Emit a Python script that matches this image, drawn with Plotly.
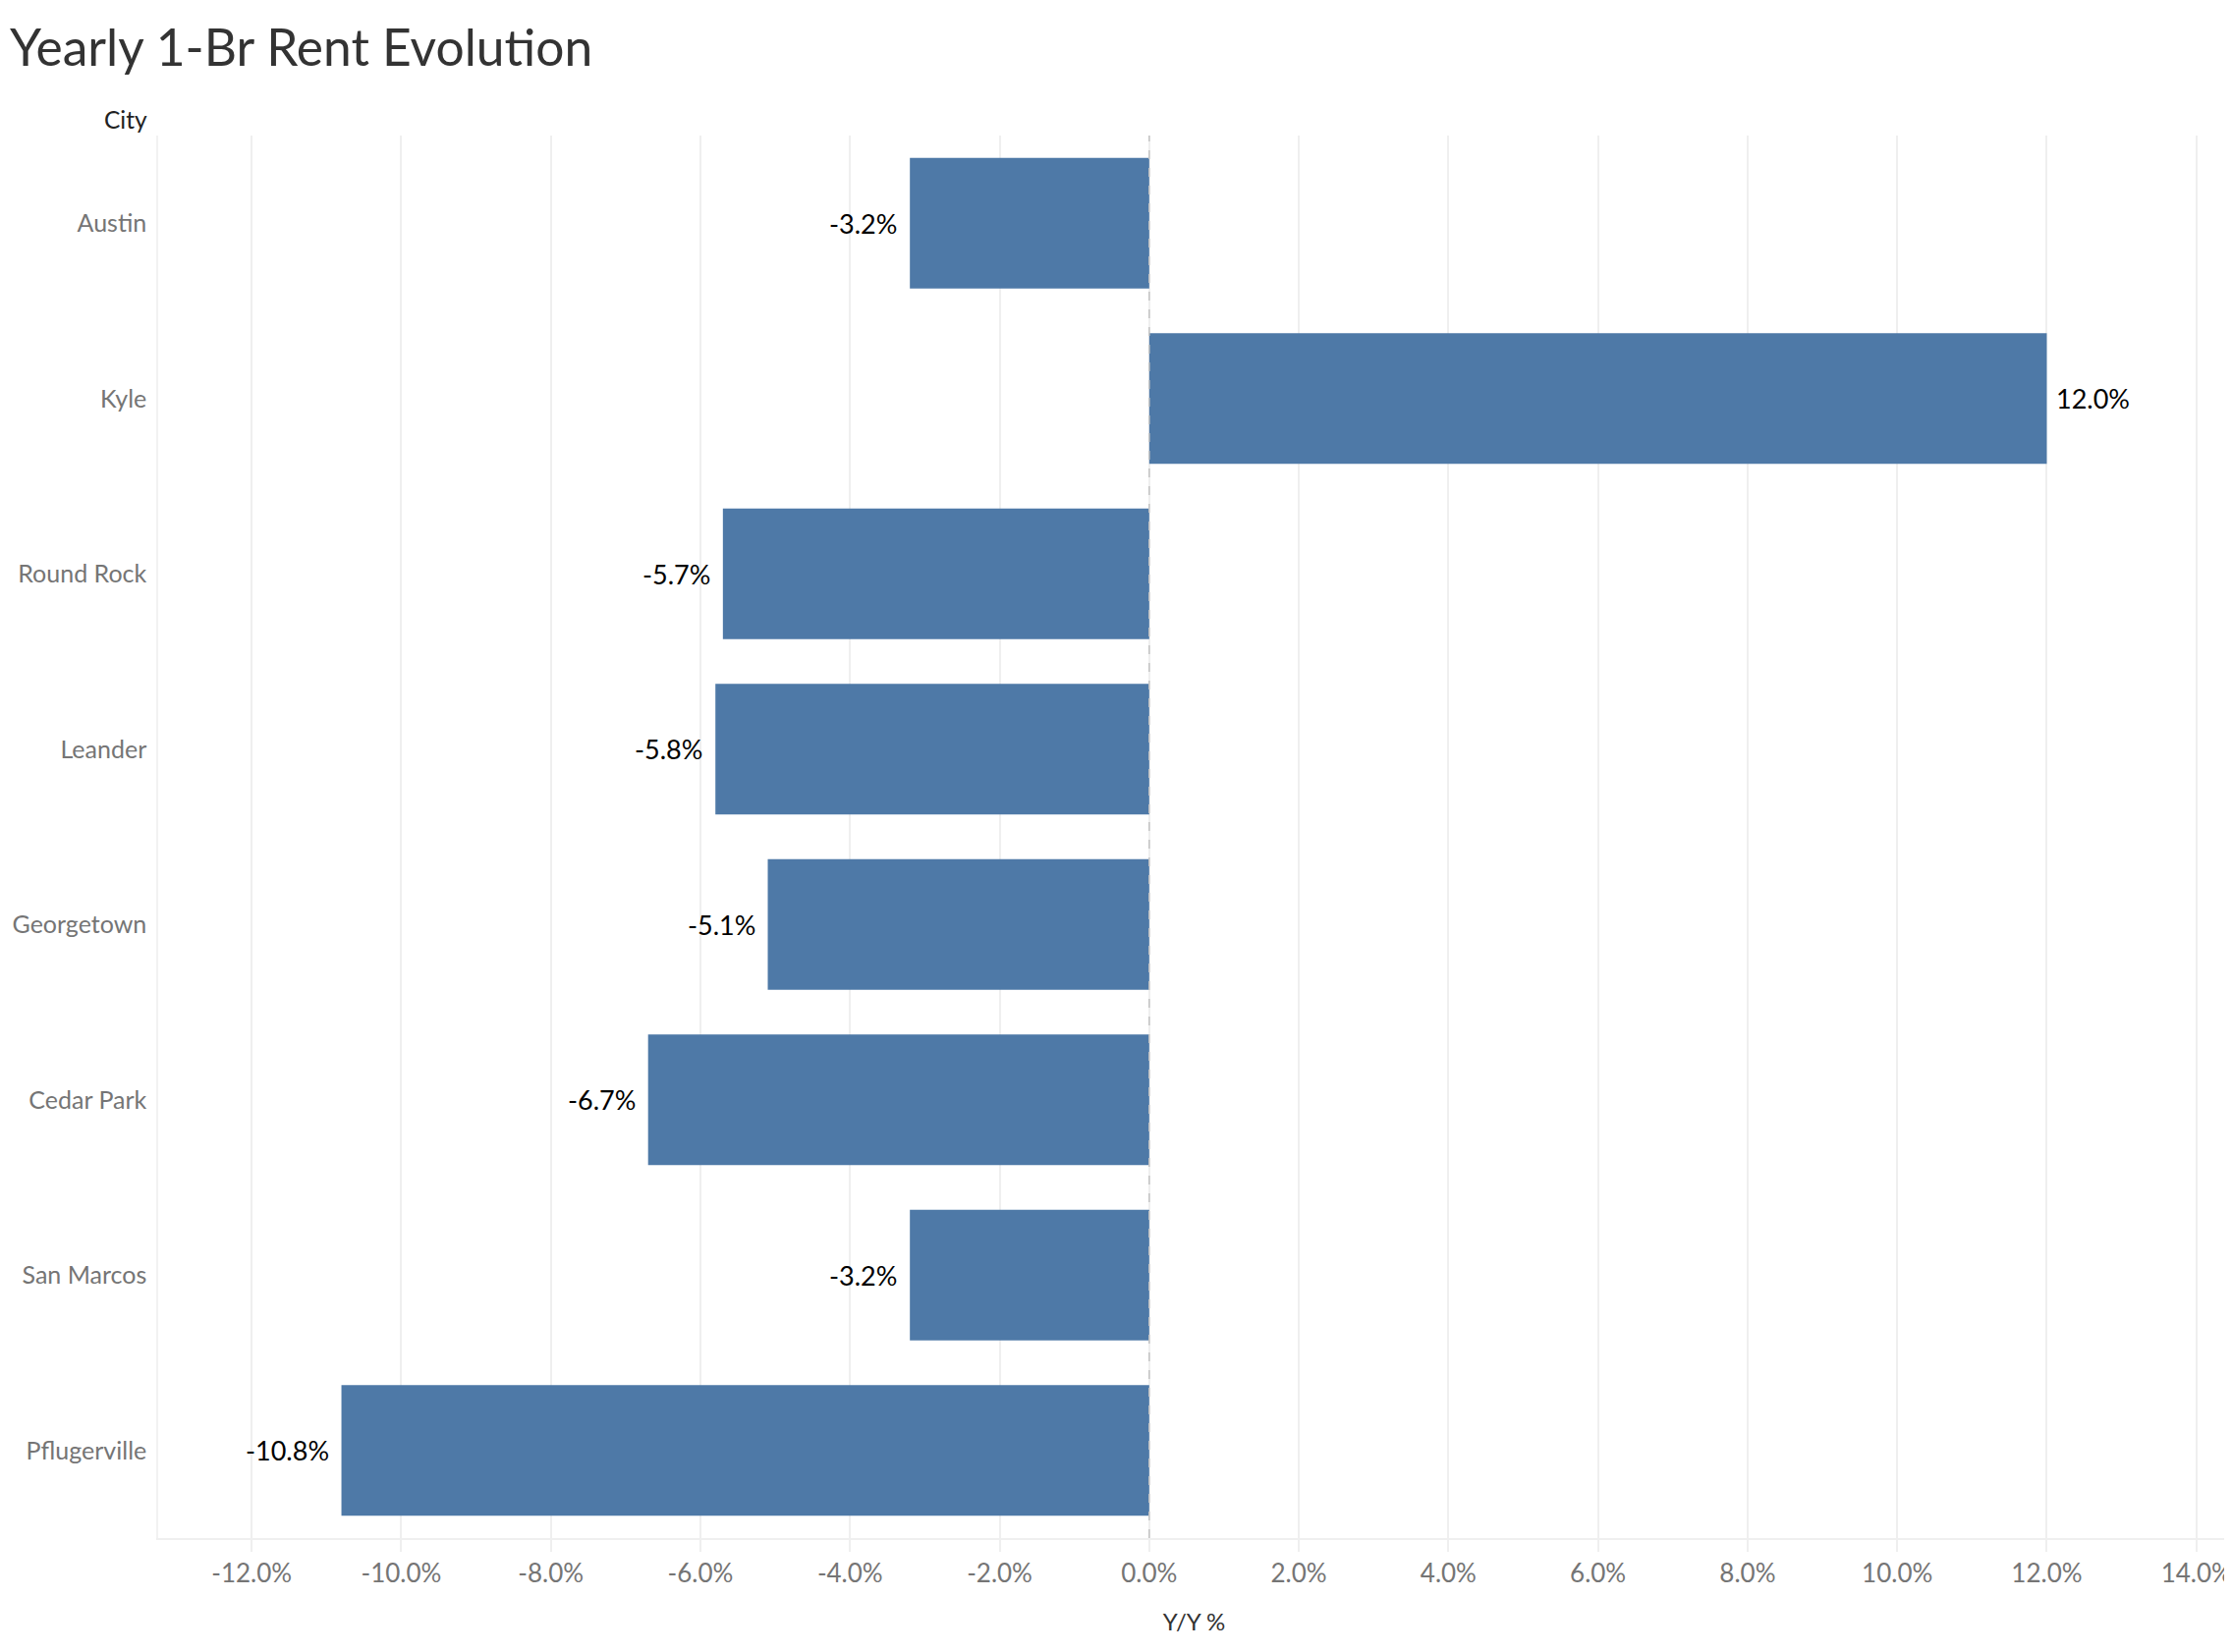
import plotly.graph_objects as go

cities = ["Austin", "Kyle", "Round Rock", "Leander", "Georgetown", "Cedar Park", "San Marcos", "Pflugerville"]
yoy_pct = [-3.2, 12.0, -5.7, -5.8, -5.1, -6.7, -3.2, -10.8]
tick_vals = [-12, -10, -8, -6, -4, -2, 0, 2, 4, 6, 8, 10, 12, 14]
tick_text = [f"{v:.1f}%" for v in tick_vals]
bar_text = [f"{v:.1f}%" for v in yoy_pct]

FONT = "Lato"

fig = go.Figure()
fig.add_trace(go.Bar(
    x=yoy_pct, y=cities, orientation="h",
    marker=dict(color="#4e79a7", line=dict(width=0)),
    hoverinfo="skip",
))

for c, v, t in zip(cities, yoy_pct, bar_text):
    fig.add_annotation(
        x=v, y=c, xref="x", yref="y", text=t, showarrow=False,
        xanchor="left" if v >= 0 else "right",
        xshift=8 if v >= 0 else -11,
        font=dict(family=FONT, size=27, color="#000000"),
    )

fig.add_vline(x=0, line=dict(color="#c4c4c4", width=1.5, dash="dash"), layer="above")

fig.update_layout(
    width=2264, height=1674,
    paper_bgcolor="white", plot_bgcolor="white",
    margin=dict(l=153, r=2, t=130, b=116, autoexpand=False),
    bargap=0.255,
    showlegend=False,
    title=dict(text="Yearly 1-Br Rent Evolution", xref="container", x=2 / 2264, xanchor="left",
               yref="container", y=1 - 41 / 1674, yanchor="middle",
               font=dict(family=FONT, size=51.5, color="#333333")),
    font=dict(family=FONT),
)

fig.update_xaxes(
    range=[-13.25, 14.45],
    tickvals=tick_vals, ticktext=tick_text,
    tickfont=dict(family=FONT, size=26, color="#757575"),
    showgrid=True, gridcolor="#efefef", gridwidth=1.5,
    zeroline=False,
    showline=True, linecolor="#efefef", linewidth=2,
    ticks="outside", ticklen=12, tickcolor="#efefef", tickwidth=1.5,
    automargin=False,
    title=dict(text="Y/Y %", font=dict(family=FONT, size=24, color="#333333"), standoff=27),
)
fig.update_yaxes(
    categoryorder="array", categoryarray=cities, autorange="reversed",
    tickfont=dict(family=FONT, size=25, color="#757575"),
    showgrid=False, zeroline=False,
    showline=True, linecolor="#f2f2f2", linewidth=1.5,
    ticks="", ticklabelstandoff=5,
    automargin=False,
)

fig.add_annotation(text="City", xref="paper", yref="paper", x=0, xanchor="right", xshift=-9,
                   y=1, yanchor="bottom", yshift=0, showarrow=False,
                   font=dict(family=FONT, size=24.5, color="#222222"))

fig.write_html("out.html")
